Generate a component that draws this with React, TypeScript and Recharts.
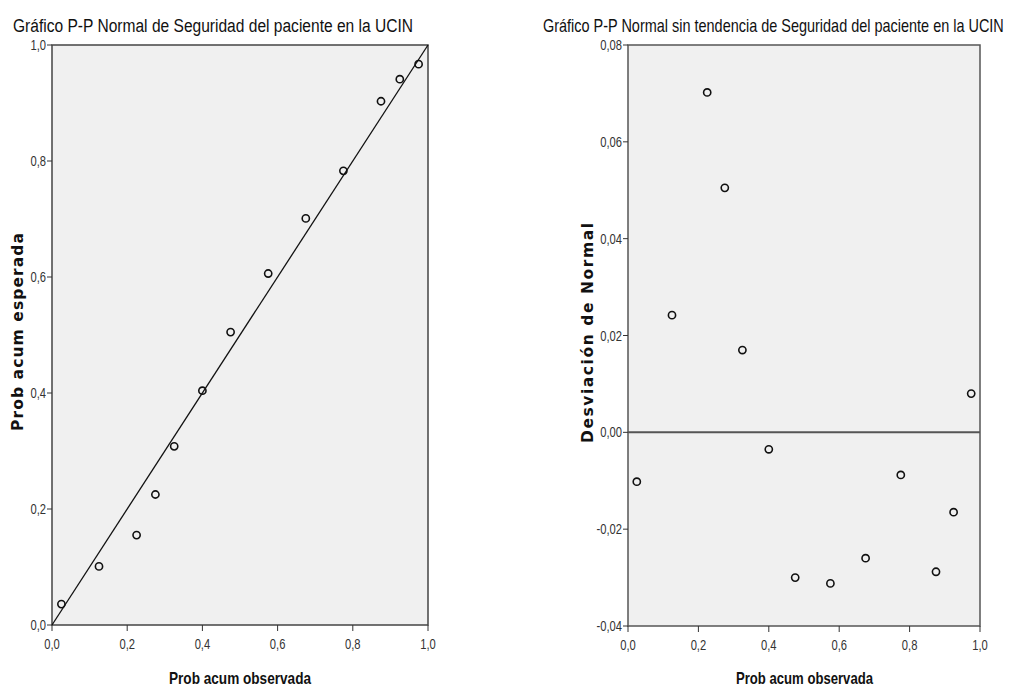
import React from 'react';
import { ScatterChart, Scatter, XAxis, YAxis, ReferenceLine, ReferenceArea } from 'recharts';

const observed = [0.025, 0.125, 0.225, 0.275, 0.325, 0.4, 0.475, 0.575, 0.675, 0.775, 0.875, 0.925, 0.975];
const expected = [0.036, 0.101, 0.155, 0.225, 0.308, 0.404, 0.505, 0.606, 0.701, 0.783, 0.903, 0.941, 0.967];
const deviation = [-0.0102, 0.0242, 0.0702, 0.0505, 0.0170, -0.0035, -0.0300, -0.0312, -0.0260, -0.0088, -0.0288, -0.0165, 0.0080];

const xTicks = [0, 0.2, 0.4, 0.6, 0.8, 1.0];
const leftYTicks = [0, 0.2, 0.4, 0.6, 0.8, 1.0];
const rightYTicks = [-0.04, -0.02, 0, 0.02, 0.04, 0.06, 0.08];

const leftTitle = 'Gráfico P-P Normal de Seguridad del paciente en la UCIN';
const rightTitle = 'Gráfico P-P Normal sin tendencia de Seguridad del paciente en la UCIN';
const xLabel = 'Prob acum observada';
const leftYLabel = 'Prob acum esperada';
const rightYLabel = 'Desviación de Normal';

const leftData = observed.map((x, i) => ({ x, y: expected[i] }));
const rightData = observed.map((x, i) => ({ x, y: deviation[i] }));

const SANS = '"Liberation Sans", Arial, sans-serif';
const WIDE = '"DejaVu Sans", Verdana, sans-serif';

const Ring = (props: any) => {
  const { cx, cy } = props;
  if (cx == null || cy == null) return null;
  return <circle cx={cx} cy={cy} r={3.6} fill="none" stroke="#111" strokeWidth={1.6} />;
};

const fmt1 = (v: number) => v.toFixed(1).replace('.', ',');
const fmt2 = (v: number) => (Math.abs(v) < 1e-9 ? 0 : v).toFixed(2).replace('.', ',');

const makeXTick = (fmt: (v: number) => string) => (props: any) => {
  const { x, y, payload } = props;
  return (
    <g transform={`translate(${x},${y})`}>
      <text transform="scale(0.8,1)" textAnchor="middle" dy="0.71em" fontFamily={SANS} fontSize={14} fill="#333">
        {fmt(payload.value)}
      </text>
    </g>
  );
};

const makeYTick = (fmt: (v: number) => string) => (props: any) => {
  const { x, y, payload } = props;
  return (
    <g transform={`translate(${x},${y})`}>
      <text transform="scale(0.8,1)" textAnchor="end" dy="0.36em" fontFamily={SANS} fontSize={14} fill="#333">
        {fmt(payload.value)}
      </text>
    </g>
  );
};

export default function App() {
  return (
    <div style={{ position: 'absolute', left: 0, top: 0, width: 1011, height: 687, background: '#fff', overflow: 'hidden' }}>
      <div style={{ position: 'absolute', left: 0, top: 0 }}>
        <ScatterChart width={450} height={687} margin={{ top: 45, left: 12, right: 22, bottom: 32 }}>
          <XAxis type="number" dataKey="x" domain={[0, 1]} ticks={xTicks} height={30}
            axisLine={false} tickLine={{ stroke: '#333' }} tickSize={6} tickMargin={8} tick={makeXTick(fmt1)} />
          <YAxis type="number" dataKey="y" domain={[0, 1]} ticks={leftYTicks} width={40}
            axisLine={false} tickLine={{ stroke: '#333' }} tickSize={5} tickMargin={1} tick={makeYTick(fmt1)} />
          <ReferenceArea x1={0} x2={1} y1={0} y2={1} fill="#f0f0f0" fillOpacity={1} stroke="#444" strokeWidth={1.5} />
          <ReferenceLine segment={[{ x: 0, y: 0 }, { x: 1, y: 1 }]} stroke="#111" strokeWidth={1.3} />
          <Scatter data={leftData} shape={Ring} isAnimationActive={false} />
        </ScatterChart>
      </div>

      <div style={{ position: 'absolute', left: 540, top: 0 }}>
        <ScatterChart width={471} height={687} margin={{ top: 45, left: 48, right: 31, bottom: 31 }}>
          <XAxis type="number" dataKey="x" domain={[0, 1]} ticks={xTicks} height={30}
            axisLine={false} tickLine={{ stroke: '#333' }} tickSize={6} tickMargin={8} tick={makeXTick(fmt1)} />
          <YAxis type="number" dataKey="y" domain={[-0.04, 0.08]} ticks={rightYTicks} width={40}
            axisLine={false} tickLine={{ stroke: '#333' }} tickSize={5} tickMargin={1} tick={makeYTick(fmt2)} />
          <ReferenceArea x1={0} x2={1} y1={-0.04} y2={0.08} fill="#f0f0f0" fillOpacity={1} stroke="#555" strokeWidth={1.5} />
          <ReferenceLine y={0} stroke="#555" strokeWidth={2} />
          <Scatter data={rightData} shape={Ring} isAnimationActive={false} />
        </ScatterChart>
      </div>

      <svg width={1011} height={687} style={{ position: 'absolute', left: 0, top: 0, pointerEvents: 'none' }}>
        <text x={0} y={0} transform="translate(13,32) scale(0.864,1)" fontFamily={SANS} fontSize={18} fill="#111" textLength={463} lengthAdjust="spacingAndGlyphs">
          {leftTitle}
        </text>
        <text x={0} y={0} transform="translate(543,32) scale(0.8,1)" fontFamily={SANS} fontSize={18} fill="#111" textLength={576} lengthAdjust="spacingAndGlyphs">
          {rightTitle}
        </text>
        <text x={169} y={684} fontFamily={SANS} fontSize={17} fontWeight="bold" fill="#111" textLength={142} lengthAdjust="spacingAndGlyphs">
          {xLabel}
        </text>
        <text x={736} y={684} fontFamily={SANS} fontSize={17} fontWeight="bold" fill="#111" textLength={137} lengthAdjust="spacingAndGlyphs">
          {xLabel}
        </text>
        <text x={0} y={0} transform="translate(23,431) rotate(-90)" fontFamily={WIDE} fontSize={15.5} fontWeight="bold" fill="#111" textLength={198} lengthAdjust="spacing">
          {leftYLabel}
        </text>
        <text x={0} y={0} transform="translate(593,443) rotate(-90)" fontFamily={WIDE} fontSize={15.5} fontWeight="bold" fill="#111" textLength={220} lengthAdjust="spacing">
          {rightYLabel}
        </text>
      </svg>
    </div>
  );
}
